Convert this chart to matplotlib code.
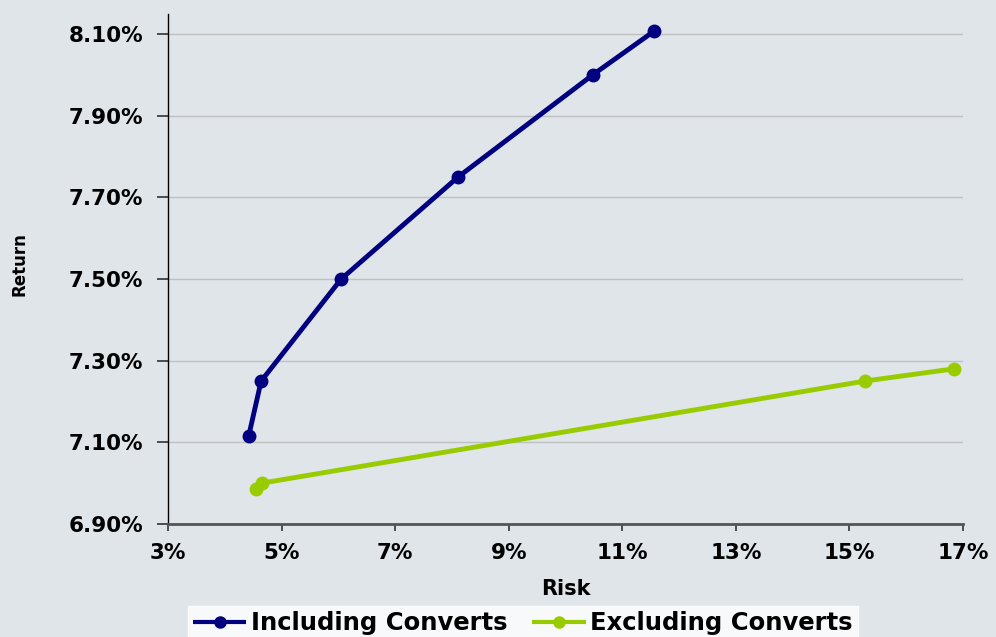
import matplotlib
matplotlib.use("Agg")
import matplotlib.pyplot as plt
from matplotlib.ticker import FuncFormatter

plt.rcParams['font.family'] = ['DejaVu Sans']

incl_risk = [4.42, 4.64, 6.05, 8.11, 10.48, 11.56]
incl_ret = [7.115, 7.25, 7.50, 7.75, 8.00, 8.107]
excl_risk = [4.55, 4.65, 15.27, 16.84]
excl_ret = [6.985, 7.00, 7.25, 7.28]
series_names = ["Including Converts", "Excluding Converts"]

bg = '#dfe5e9'
fig = plt.figure(figsize=(9.96, 6.37), dpi=100, facecolor=bg)
ax = fig.add_axes([168/996, 1-524/637, (963-168)/996, (524-14)/637])
ax.set_facecolor(bg)

ax.plot(incl_risk, incl_ret, color='#000080', lw=3.5, marker='o', ms=9,
        label=series_names[0], solid_capstyle='butt')
ax.plot(excl_risk, excl_ret, color='#99cc00', lw=3.5, marker='o', ms=9,
        label=series_names[1], solid_capstyle='butt')

ax.set_xlim(3, 17)
ax.set_ylim(6.90, 8.149)
ax.set_xticks([3, 5, 7, 9, 11, 13, 15, 17])
ax.set_yticks([6.90, 7.10, 7.30, 7.50, 7.70, 7.90, 8.10])
ax.xaxis.set_major_formatter(FuncFormatter(lambda v, p: f"{v:.0f}%"))
ax.yaxis.set_major_formatter(FuncFormatter(lambda v, p: f"{v:.2f}%"))
ax.yaxis.grid(True, color='#c0c0c0', lw=1)
ax.set_axisbelow(True)
for s in ['top', 'right']:
    ax.spines[s].set_visible(False)
ax.spines['left'].set_color('black')
ax.spines['left'].set_linewidth(1)
ax.spines['bottom'].set_color('#555555')
ax.spines['bottom'].set_linewidth(2)
ax.tick_params(axis='x', labelsize=15.5, width=1.2, length=5, pad=9, color='#333333')
ax.tick_params(axis='y', labelsize=15.5, width=1.2, length=8, pad=10, color='#333333')
for lab in ax.get_xticklabels() + ax.get_yticklabels():
    lab.set_fontweight('bold')

fig.text(566/996, 1-589/637, "Risk", fontsize=15, fontweight='bold',
         ha='center', va='center')
fig.text(19/996, 1-264/637, "Return", rotation=90, fontsize=12, fontweight='bold',
         ha='center', va='center')

leg = fig.legend(loc='lower center', bbox_to_anchor=(523/996, -0.005), ncol=2,
                 frameon=True, fancybox=False, handlelength=2.2,
                 handletextpad=0.2, columnspacing=1.0, borderpad=0.2,
                 borderaxespad=0,
                 prop={'weight': 'bold', 'size': 17.5})
leg.get_frame().set_facecolor('white')
leg.get_frame().set_edgecolor('white')
for h in leg.legend_handles:
    h.set_markersize(8)
    h.set_linewidth(3)

fig.savefig("out.png", dpi=100, facecolor=bg)
